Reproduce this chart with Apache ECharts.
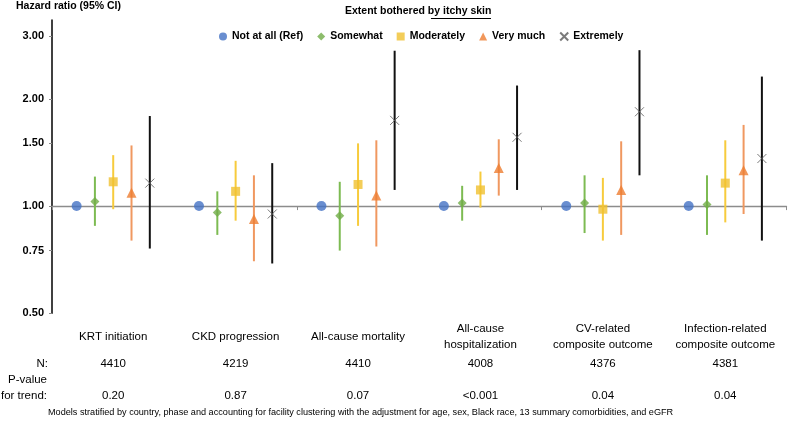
<!DOCTYPE html>
<html><head><meta charset="utf-8">
<script src="https://cdn.jsdelivr.net/npm/echarts@6/dist/echarts.min.js"></script>
<style>html,body{margin:0;padding:0;background:#fff}#c{width:789px;height:422px}</style>
</head><body><div id="c"></div>
<script>
const categories = ['KRT initiation','CKD progression','All-cause mortality','All-cause\nhospitalization','CV-related\ncomposite outcome','Infection-related\ncomposite outcome'];
const nValues = ['4410','4219','4410','4008','4376','4381'];
const pValues = ['0.20','0.87','0.07','<0.001','0.04','0.04'];
const yTicks = [0.5,0.75,1,1.5,2,3];
const groups = ['Not at all (Ref)','Somewhat','Moderately','Very much','Extremely'];
const hrRef  = [1,1,1,1,1,1];
const hrSome = [1.03,0.96,0.94,1.02,1.02,1.01];
const loSome = [0.88,0.83,0.75,0.91,0.84,0.83];
const hiSome = [1.21,1.10,1.17,1.14,1.22,1.22];
const hrMod  = [1.17,1.10,1.15,1.11,0.98,1.16];
const loMod  = [0.98,0.91,0.88,0.99,0.80,0.90];
const hiMod  = [1.39,1.34,1.50,1.25,1.20,1.53];
const hrVery = [1.09,0.92,1.07,1.28,1.11,1.26];
const loVery = [0.80,0.70,0.77,1.07,0.83,0.95];
const hiVery = [1.48,1.22,1.53,1.54,1.52,1.69];
const hrExt  = [1.16,0.95,1.74,1.56,1.84,1.36];
const loExt  = [0.76,0.69,1.11,1.11,1.22,0.80];
const hiExt  = [1.79,1.32,2.73,2.18,2.74,2.31];

const FONT = "'Liberation Sans', Arial, sans-serif";
const Y_MIN = 0.5, Y_MAX = 3.33;
const GRID = {left:52, right:2.5, top:20, bottom:108.7};
const PLOT_H = 422 - GRID.top - GRID.bottom;
const ONE_OFFSET = -PLOT_H * Math.log(1 / Y_MIN) / Math.log(Y_MAX / Y_MIN);
const STEP = 18.3;

const styles = [
  {symbol:'circle', size:10, color:'#4472C4', bar:null},
  {symbol:'diamond', size:9, color:'#70AD47', bar:'#7DBB52'},
  {symbol:'rect', size:9, color:'#F0C030', bar:'#F7CB3C'},
  {symbol:'triangle', size:10, color:'#ED7D31', bar:'#F09860'},
  {symbol:'path://M0,0L10,10M10,0L0,10', size:9, color:'#595959', bar:'#111111'}
];
const hrs = [hrRef, hrSome, hrMod, hrVery, hrExt];
const los = [null, loSome, loMod, loVery, loExt];
const his = [null, hiSome, hiMod, hiVery, hiExt];

const series = [];
groups.forEach((g, k) => {
  const st = styles[k];
  const dx = (k - 2) * STEP;
  if (los[k]) {
    series.push({
      type:'custom', name: g + ' CI', z: 2, silent: true,
      data: los[k].map((l, i) => [i, l, his[k][i]]),
      encode: {x: 0, y: [1, 2]},
      renderItem: (params, api) => {
        const a = api.coord([api.value(0), api.value(1)]);
        const b = api.coord([api.value(0), api.value(2)]);
        return {type:'line', shape:{x1:a[0]+dx, y1:a[1], x2:b[0]+dx, y2:b[1]},
                style:{stroke: st.bar, lineWidth: 2}};
      }
    });
  }
  const isX = k === 4;
  series.push({
    type:'scatter', name: g, z: 5, data: hrs[k],
    symbol: st.symbol, symbolSize: st.size, symbolOffset: [dx, 0],
    itemStyle: isX ? {color:'rgba(0,0,0,0)', borderColor: st.color, borderWidth: 1} : {color: st.color}
  });
});

const chart = echarts.init(document.getElementById('c'));
chart.setOption({
  animation: false,
  backgroundColor: '#fff',
  textStyle: {fontFamily: FONT},
  grid: Object.assign({outerBoundsMode:'none', containLabel:false}, GRID),
  legend: {
    data: groups, left: 214, top: 26, itemWidth: 8, itemHeight: 8, itemGap: 14,
    textStyle: {fontWeight:'bold', fontSize: 10.5, color:'#000', fontFamily: FONT}
  },
  xAxis: [
    {type:'category', data: categories, position:'bottom',
     axisLine:{show:false}, axisTick:{show:false},
     axisLabel:{fontSize:11.5, color:'#000', lineHeight:16, verticalAlign:'middle', margin:24, interval:0, fontFamily: FONT}},
    {type:'category', data: categories, position:'bottom', offset: ONE_OFFSET,
     axisLine:{show:true, lineStyle:{color:'#8c8c8c', width:1.3}},
     axisTick:{show:true, length:4, lineStyle:{color:'#8c8c8c'}},
     axisLabel:{show:false}},
    {type:'category', data: nValues, position:'bottom',
     axisLine:{show:false}, axisTick:{show:false},
     axisLabel:{fontSize:11.5, color:'#000', verticalAlign:'middle', margin:51, interval:0, fontFamily: FONT}},
    {type:'category', data: pValues, position:'bottom',
     axisLine:{show:false}, axisTick:{show:false},
     axisLabel:{fontSize:11.5, color:'#000', verticalAlign:'middle', margin:83, interval:0, fontFamily: FONT}}
  ],
  yAxis: {
    type:'log', logBase:10, min: Y_MIN, max: Y_MAX,
    axisLine:{show:true, lineStyle:{color:'#000', width:1.5}},
    axisTick:{show:true, length:3, lineStyle:{color:'#888'}, customValues: yTicks},
    axisLabel:{customValues: yTicks, formatter: v => Number(v).toFixed(2), fontWeight:'bold', fontSize:11, color:'#000', margin:8, fontFamily: FONT},
    splitLine:{show:false}, minorTick:{show:false}
  },
  graphic: [
    {type:'text', left:16, top:1, style:{text:'Hazard ratio (95% CI)', font:"bold 10.5px " + FONT, fill:'#000'}},
    {type:'text', left:345, top:6, style:{text:'Extent bothered by itchy skin', font:"bold 10.5px " + FONT, fill:'#000'}},
    {type:'line', shape:{x1:431, y1:18.5, x2:491, y2:18.5}, style:{stroke:'#000', lineWidth:1}},
    {type:'text', right:789-48, top:358, style:{text:'N:', font:"11.5px " + FONT, fill:'#000', align:'right'}},
    {type:'text', right:789-47, top:374, style:{text:'P-value', font:"11.5px " + FONT, fill:'#000', align:'right'}},
    {type:'text', right:789-47, top:390, style:{text:'for trend:', font:"11.5px " + FONT, fill:'#000', align:'right'}},
    {type:'text', left:48, top:408, style:{text:'Models stratified by country, phase and accounting for facility clustering with the adjustment for age, sex, Black race, 13 summary comorbidities, and eGFR', font:"9.15px " + FONT, fill:'#000'}}
  ],
  series: series
});
</script></body></html>
